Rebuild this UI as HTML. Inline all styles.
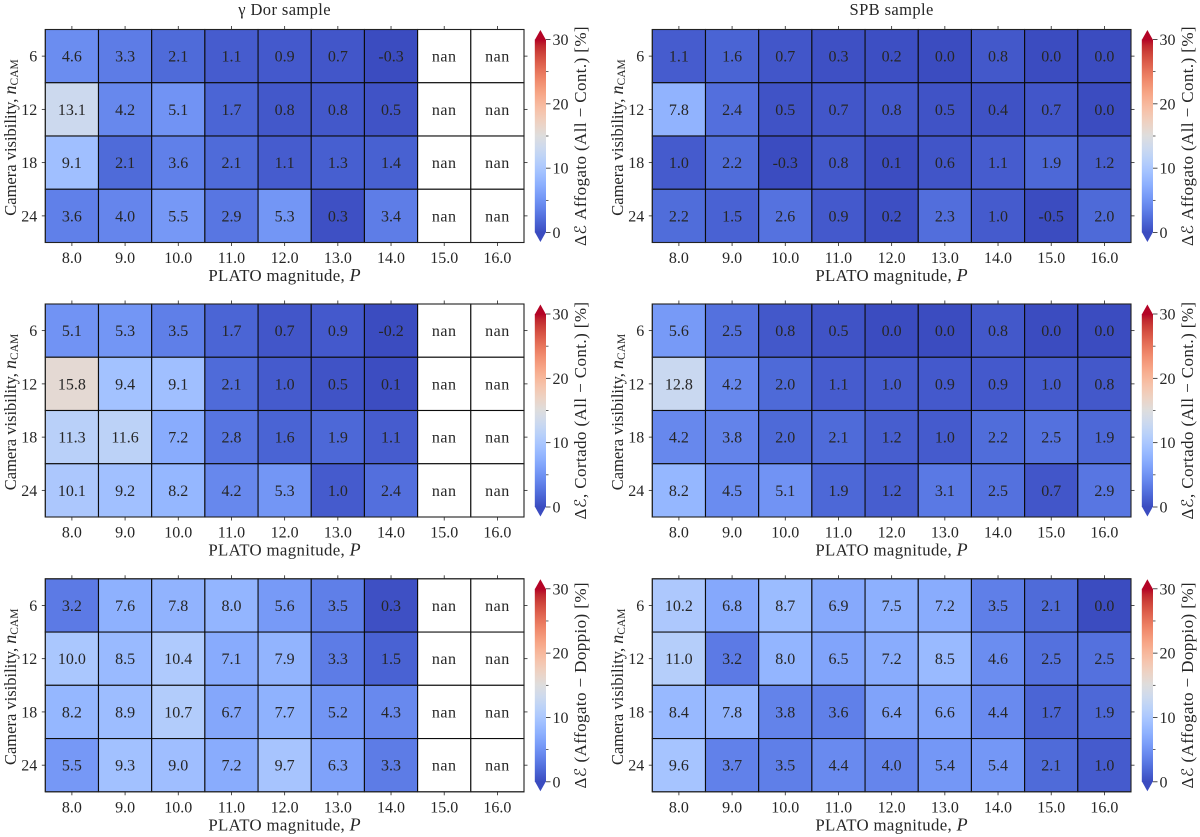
<!DOCTYPE html>
<html lang="en">
<head>
<meta charset="utf-8">
<title>PLATO heatmaps</title>
<style>
html,body{margin:0;padding:0;background:#fff;}
#fig{display:block;width:1200px;height:837px;filter:blur(0.35px);}
text{font-family:"Liberation Serif","DejaVu Serif",serif;fill:#262626;font-size:16px;}
</style>
</head>
<body>
<svg id="fig" xmlns="http://www.w3.org/2000/svg" width="1200" height="837" viewBox="0 0 1200 837">
<defs id="defs"></defs>
</svg>
<script>
const magnitudes = [8.0, 9.0, 10.0, 11.0, 12.0, 13.0, 14.0, 15.0, 16.0];
const cameraCounts = [6, 12, 18, 24];
const colorbarTicks = [0, 10, 20, 30];
const colorbarMinorTicks = [5, 15, 25];
const colorMin = 0;
const colorMax = 30;

const gdorAffogatoCont = [
  [4.6, 3.3, 2.1, 1.1, 0.9, 0.7, -0.3, null, null],
  [13.1, 4.2, 5.1, 1.7, 0.8, 0.8, 0.5, null, null],
  [9.1, 2.1, 3.6, 2.1, 1.1, 1.3, 1.4, null, null],
  [3.6, 4.0, 5.5, 2.9, 5.3, 0.3, 3.4, null, null]
];
const spbAffogatoCont = [
  [1.1, 1.6, 0.7, 0.3, 0.2, 0.0, 0.8, 0.0, 0.0],
  [7.8, 2.4, 0.5, 0.7, 0.8, 0.5, 0.4, 0.7, 0.0],
  [1.0, 2.2, -0.3, 0.8, 0.1, 0.6, 1.1, 1.9, 1.2],
  [2.2, 1.5, 2.6, 0.9, 0.2, 2.3, 1.0, -0.5, 2.0]
];
const gdorCortadoCont = [
  [5.1, 5.3, 3.5, 1.7, 0.7, 0.9, -0.2, null, null],
  [15.8, 9.4, 9.1, 2.1, 1.0, 0.5, 0.1, null, null],
  [11.3, 11.6, 7.2, 2.8, 1.6, 1.9, 1.1, null, null],
  [10.1, 9.2, 8.2, 4.2, 5.3, 1.0, 2.4, null, null]
];
const spbCortadoCont = [
  [5.6, 2.5, 0.8, 0.5, 0.0, 0.0, 0.8, 0.0, 0.0],
  [12.8, 4.2, 2.0, 1.1, 1.0, 0.9, 0.9, 1.0, 0.8],
  [4.2, 3.8, 2.0, 2.1, 1.2, 1.0, 2.2, 2.5, 1.9],
  [8.2, 4.5, 5.1, 1.9, 1.2, 3.1, 2.5, 0.7, 2.9]
];
const gdorAffogatoDoppio = [
  [3.2, 7.6, 7.8, 8.0, 5.6, 3.5, 0.3, null, null],
  [10.0, 8.5, 10.4, 7.1, 7.9, 3.3, 1.5, null, null],
  [8.2, 8.9, 10.7, 6.7, 7.7, 5.2, 4.3, null, null],
  [5.5, 9.3, 9.0, 7.2, 9.7, 6.3, 3.3, null, null]
];
const spbAffogatoDoppio = [
  [10.2, 6.8, 8.7, 6.9, 7.5, 7.2, 3.5, 2.1, 0.0],
  [11.0, 3.2, 8.0, 6.5, 7.2, 8.5, 4.6, 2.5, 2.5],
  [8.4, 7.8, 3.8, 3.6, 6.4, 6.6, 4.4, 1.7, 1.9],
  [9.6, 3.7, 3.5, 4.4, 4.0, 5.4, 5.4, 2.1, 1.0]
];

const coolwarm = [[59,76,192],[68,90,204],[77,104,215],[87,117,225],[98,130,234],[108,142,241],[119,154,247],[130,165,251],[141,176,254],[152,185,255],[163,194,255],[174,201,253],[184,208,249],[194,213,244],[204,217,238],[213,219,230],[221,221,221],[229,216,209],[236,211,197],[241,204,185],[245,196,173],[247,187,160],[247,177,148],[247,166,135],[244,154,123],[241,141,111],[236,127,99],[229,112,88],[222,96,77],[213,80,66],[203,62,56],[192,40,47],[180,4,38]];

const NS = 'http://www.w3.org/2000/svg';
const svg = document.getElementById('fig');
const defs = document.getElementById('defs');

function colorAt(frac) {
  const f = Math.max(0, Math.min(1, frac)) * (coolwarm.length - 1);
  const i = Math.min(Math.floor(f), coolwarm.length - 2);
  const t = f - i;
  const c = coolwarm[i].map((v, k) => Math.round(v + (coolwarm[i + 1][k] - v) * t));
  return 'rgb(' + c.join(',') + ')';
}
function valueColor(v) {
  return colorAt((v - colorMin) / (colorMax - colorMin));
}
function make(tag, parent, attrs) {
  const el = document.createElementNS(NS, tag);
  for (const k in attrs) el.setAttribute(k, attrs[k]);
  parent.appendChild(el);
  return el;
}

const grad = make('linearGradient', defs, {id: 'cbGrad', x1: 0, y1: 1, x2: 0, y2: 0});
coolwarm.forEach((c, i) => {
  make('stop', grad, {offset: i / (coolwarm.length - 1), 'stop-color': 'rgb(' + c.join(',') + ')'});
});

function addRichLabel(parent, parts, attrs) {
  const t = make('text', parent, attrs);
  parts.forEach(p => {
    const s = document.createElementNS(NS, 'tspan');
    s.textContent = p.t;
    if (p.italic) s.style.fontStyle = 'italic';
    if (p.size) s.style.fontSize = p.size + 'px';
    if (p.dy) s.setAttribute('dy', p.dy);
    if (p.font) s.style.fontFamily = p.font;
    t.appendChild(s);
  });
  return t;
}

function drawPanel(cfg) {
  const g = make('g', svg, {});
  
  
  const L = cfg.left, T = cfg.top, W = 478.7, H = 213;
  const cw = W / magnitudes.length, ch = H / cameraCounts.length;
  const xScale = i => L + cw * i;
  const yScale = j => T + ch * j;

  cfg.values.forEach((row, j) => {
    row.forEach((v, i) => {
      const cell = make('rect', g, {x: xScale(i), y: yScale(j), width: cw, height: ch,
        fill: v === null ? '#ffffff' : valueColor(v), stroke: '#0c0c0c', 'stroke-width': 1.1});
      
      
      const label = make('text', g, {x: xScale(i) + cw / 2, y: yScale(j) + ch / 2 + 5.5, 'text-anchor': 'middle'});
      label.textContent = v === null ? 'nan' : v.toFixed(1);
      if (v === null) label.setAttribute('letter-spacing', '0.5');
      
      
    });
  });

  const border = make('rect', g, {x: L, y: T, width: W, height: H, fill: 'none', stroke: '#222', 'stroke-width': 1});
  
  

  magnitudes.forEach((m, i) => {
    const x = xScale(i) + cw / 2;
    const bottomTick = make('line', g, {x1: x, x2: x, y1: T + H, y2: T + H + 3.5, stroke: '#222', 'stroke-width': 0.8});
    
    
    const topTick = make('line', g, {x1: x, x2: x, y1: T, y2: T - 3.5, stroke: '#222', 'stroke-width': 0.8});
    
    
    const lab = make('text', g, {x: x, y: T + H + 20.5, 'text-anchor': 'middle'});
    lab.textContent = m.toFixed(1);
    
    
  });
  cameraCounts.forEach((n, j) => {
    const y = yScale(j) + ch / 2;
    const leftTick = make('line', g, {x1: L, x2: L - 3.5, y1: y, y2: y, stroke: '#222', 'stroke-width': 0.8});
    
    
    const rightTick = make('line', g, {x1: L + W, x2: L + W + 3.5, y1: y, y2: y, stroke: '#222', 'stroke-width': 0.8});
    
    
    const lab = make('text', g, {x: L - 8, y: y + 5.5, 'text-anchor': 'end'});
    lab.textContent = String(n);
    
    
  });

  const xTitle = addRichLabel(g, [{t: 'PLATO magnitude, ', size: 16.8}, {t: 'P', italic: true, size: 18}],
    {x: L + W / 2, y: T + H + 38.5, 'text-anchor': 'middle', 'letter-spacing': '0.35'});
  
  

  const yCx = L - 29.5, yCy = T + H / 2 + 1.5;
  const yTitle = addRichLabel(g, [{t: 'Camera visibility, ', size: 16.5}, {t: 'n', italic: true, size: 18}, {t: 'CAM', size: 11.5, dy: 2}],
    {x: yCx, y: yCy, 'text-anchor': 'middle', transform: 'rotate(-90 ' + yCx + ' ' + yCy + ')'});
  
  

  if (cfg.title) {
    const title = make('text', g, {x: L + W / 2, y: T - 14.5, 'text-anchor': 'middle', 'letter-spacing': '0.4'});
    title.textContent = cfg.title;
    title.style.fontSize = '16.5px';
    
    
  }

  const bx = L + W + 10.8, bw = 11.2, tip = 10;
  const cbTop = T + tip, cbBottom = T + H - tip;
  const cbScale = v => cbBottom - (v - colorMin) / (colorMax - colorMin) * (cbBottom - cbTop);

  const cbBar = make('rect', g, {x: bx, y: cbTop, width: bw, height: cbBottom - cbTop, fill: 'url(#cbGrad)'});
  
  
  const upper = make('polygon', g, {points: bx + ',' + (cbTop + 0.5) + ' ' + (bx + bw) + ',' + (cbTop + 0.5) + ' ' + (bx + bw / 2) + ',' + (T + 0.5), fill: colorAt(1)});
  
  
  const lower = make('polygon', g, {points: bx + ',' + (cbBottom - 0.5) + ' ' + (bx + bw) + ',' + (cbBottom - 0.5) + ' ' + (bx + bw / 2) + ',' + (T + H - 0.5), fill: colorAt(0)});
  
  

  colorbarTicks.forEach(v => {
    const y = cbScale(v);
    const tick = make('line', g, {x1: bx + bw, x2: bx + bw + 4.5, y1: y, y2: y, stroke: '#222', 'stroke-width': 0.8});
    
    
    const lab = make('text', g, {x: bx + bw + 6.5, y: y + 5.5});
    lab.textContent = String(v);
    
    
  });
  colorbarMinorTicks.forEach(v => {
    const y = cbScale(v);
    const tick = make('line', g, {x1: bx + bw, x2: bx + bw + 2.5, y1: y, y2: y, stroke: '#222', 'stroke-width': 0.7});
    
    
  });

  const cx = L + W + 62, cy = T + H / 2;
  const cbTitle = addRichLabel(g, cfg.cbarLabel,
    {x: cx, y: cy, 'text-anchor': 'middle', transform: 'rotate(-90 ' + cx + ' ' + cy + ')', 'letter-spacing': '0.4'});
  
  
}

const E = {t: 'ℰ', italic: true, font: '"DejaVu Serif","DejaVu Sans",serif', size: 16};
const labelAll = [{t: 'Δ', size: 17}, E, {t: ' Affogato (All − Cont.) [%]', size: 17}];
const labelCortado = [{t: 'Δ', size: 17}, E, {t: ', Cortado (All − Cont.) [%]', size: 17}];
const labelDoppio = [{t: 'Δ', size: 17}, E, {t: ' (Affogato − Doppio) [%]', size: 17}];

drawPanel({name: 'gdor-affogato-panel', title: 'γ Dor sample', left: 45.3, top: 29.5, values: gdorAffogatoCont, cbarLabel: labelAll});
drawPanel({name: 'spb-affogato-panel', title: 'SPB sample', left: 652.3, top: 29.5, values: spbAffogatoCont, cbarLabel: labelAll});
drawPanel({name: 'gdor-cortado-panel', left: 45.3, top: 304, values: gdorCortadoCont, cbarLabel: labelCortado});
drawPanel({name: 'spb-cortado-panel', left: 652.3, top: 304, values: spbCortadoCont, cbarLabel: labelCortado});
drawPanel({name: 'gdor-doppio-panel', left: 45.3, top: 578.8, values: gdorAffogatoDoppio, cbarLabel: labelDoppio});
drawPanel({name: 'spb-doppio-panel', left: 652.3, top: 578.8, values: spbAffogatoDoppio, cbarLabel: labelDoppio});
</script>
</body>
</html>
